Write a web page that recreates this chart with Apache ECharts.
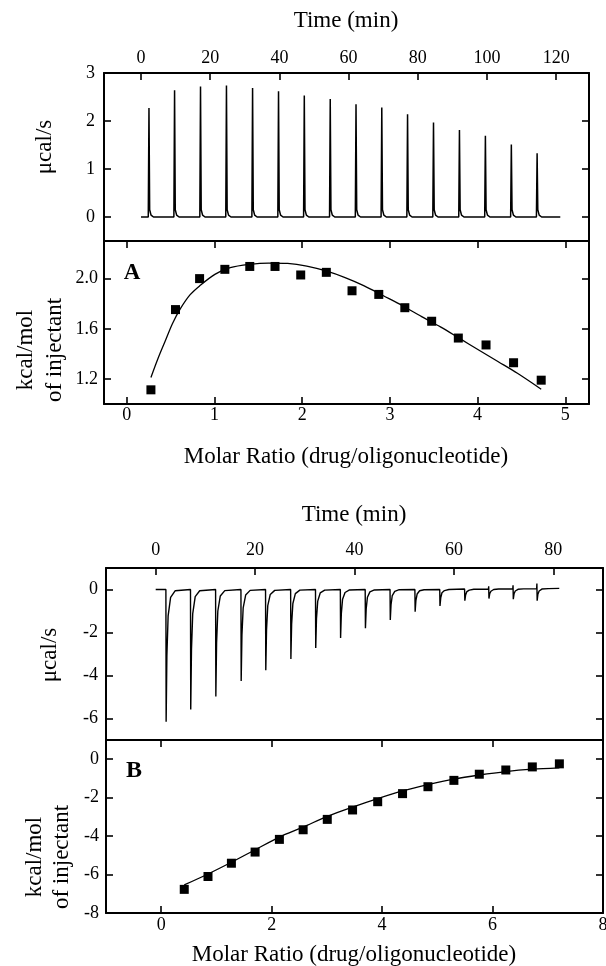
<!DOCTYPE html>
<html>
<head>
<meta charset="utf-8">
<script src="https://cdn.jsdelivr.net/npm/echarts@6/dist/echarts.min.js"></script>
<style>
html,body{margin:0;padding:0;background:#fff;}
#chart{width:606px;height:966px;}
</style>
</head>
<body>
<div id="chart"></div>
<script>
// ---------- Panel A : thermogram (time min, µcal/s) ----------
const timeTicksA = [0, 20, 40, 60, 80, 100, 120];
const powerTicksA = [0, 1, 2, 3];
const thermoA = [
  [0,0],
  [2.1,0],[2.3,2.27],[2.5,0.15],[2.9,0.04],[3.6,0],
  [9.5,0],[9.7,2.64],[9.9,0.15],[10.3,0.04],[11.0,0],
  [17.0,0],[17.2,2.72],[17.4,0.15],[17.8,0.04],[18.5,0],
  [24.5,0],[24.7,2.74],[24.9,0.15],[25.3,0.04],[26.0,0],
  [32.05,0],[32.25,2.69],[32.45,0.15],[32.85,0.04],[33.55,0],
  [39.55,0],[39.75,2.62],[39.95,0.15],[40.35,0.04],[41.05,0],
  [47.0,0],[47.2,2.53],[47.4,0.15],[47.8,0.04],[48.5,0],
  [54.5,0],[54.7,2.46],[54.9,0.15],[55.3,0.04],[56.0,0],
  [61.95,0],[62.15,2.35],[62.35,0.15],[62.75,0.04],[63.45,0],
  [69.4,0],[69.6,2.28],[69.8,0.15],[70.2,0.04],[70.9,0],
  [76.85,0],[77.05,2.14],[77.25,0.15],[77.65,0.04],[78.35,0],
  [84.35,0],[84.55,1.97],[84.75,0.15],[85.15,0.04],[85.85,0],
  [91.85,0],[92.05,1.81],[92.25,0.15],[92.65,0.04],[93.35,0],
  [99.35,0],[99.55,1.69],[99.75,0.15],[100.15,0.04],[100.85,0],
  [106.85,0],[107.05,1.51],[107.25,0.15],[107.65,0.04],[108.35,0],
  [114.3,0],[114.5,1.33],[114.7,0.15],[115.1,0.04],[115.8,0],
  [121.2,0]
];

// ---------- Panel A : integrated heats ----------
const ratioTicksA = [0, 1, 2, 3, 4, 5];
const heatTicksA = [1.2, 1.6, 2.0];
const ratioA = [0.275, 0.555, 0.83, 1.118, 1.402, 1.69, 1.983, 2.275, 2.568, 2.873, 3.17, 3.476, 3.78, 4.096, 4.41, 4.725];
const heatA  = [1.113, 1.753, 2.0, 2.074, 2.097, 2.097, 2.029, 2.05, 1.903, 1.874, 1.768, 1.66, 1.526, 1.471, 1.329, 1.19];
const fitRatioA = [0.275, 0.36, 0.437, 0.52, 0.611, 0.72, 0.83, 1.004, 1.179, 1.397, 1.616, 1.834, 2.052, 2.271, 2.489, 2.707, 2.926, 3.144, 3.362, 3.581, 3.799, 4.017, 4.236, 4.454, 4.725];
const fitHeatA  = [1.211, 1.37, 1.50, 1.64, 1.76, 1.87, 1.942, 2.034, 2.087, 2.113, 2.124, 2.121, 2.100, 2.061, 2.008, 1.942, 1.863, 1.784, 1.697, 1.613, 1.521, 1.429, 1.337, 1.245, 1.118];

// ---------- Panel B : thermogram ----------
const timeTicksB = [0, 20, 40, 60, 80];
const powerTicksB = [0, -2, -4, -6];
const thermoB = [
  [0,0],
  [2.05,0],[2.1,-6.15],[2.25,-3.08],[2.5,-1.23],[3.0,-0.37],[3.9,-0.06],
  [7.0,0],[7.05,-5.58],[7.2,-2.79],[7.45,-1.12],[7.95,-0.33],[8.85,-0.06],
  [12.05,0],[12.1,-4.98],[12.25,-2.49],[12.5,-1.0],[13.0,-0.3],[13.9,-0.05],
  [17.15,0],[17.2,-4.26],[17.35,-2.13],[17.6,-0.85],[18.1,-0.26],[19.0,-0.04],
  [22.1,0],[22.15,-3.75],[22.3,-1.88],[22.55,-0.75],[23.05,-0.23],[23.95,-0.04],
  [27.15,0],[27.2,-3.23],[27.35,-1.62],[27.6,-0.65],[28.1,-0.19],[29.0,-0.03],
  [32.15,0],[32.2,-2.72],[32.35,-1.36],[32.6,-0.54],[33.1,-0.16],[34.0,-0.03],
  [37.15,0],[37.2,-2.26],[37.35,-1.13],[37.6,-0.45],[38.1,-0.14],[39.0,-0.02],
  [42.15,0],[42.2,-1.80],[42.35,-0.9],[42.6,-0.36],[43.1,-0.11],[44.0,-0.02],
  [47.15,0],[47.2,-1.42],[47.35,-0.71],[47.6,-0.28],[48.1,-0.09],[49.0,-0.01],
  [52.15,0],[52.2,-1.03],[52.35,-0.52],[52.6,-0.21],[53.1,-0.06],[54.0,-0.01],
  [57.15,0],[57.2,-0.77],[57.35,-0.39],[57.6,-0.15],[58.1,-0.05],[59.0,0],
  [62.15,0.02],[62.2,-0.52],[62.35,-0.26],[62.6,-0.1],[63.1,-0.03],[64.0,0.01],
  [66.95,0.02],[67.0,0.15],[67.05,-0.42],[67.2,-0.2],[67.45,-0.08],[68.0,0],[69.0,0.02],
  [71.85,0.03],[71.9,0.2],[71.95,-0.45],[72.1,-0.2],[72.35,-0.07],[72.9,0.01],[74.0,0.03],
  [76.65,0.04],[76.7,0.28],[76.75,-0.52],[76.9,-0.22],[77.15,-0.07],[77.7,0.02],[79.0,0.04],
  [81.2,0.05]
];

// ---------- Panel B : integrated heats ----------
const ratioTicksB = [0, 2, 4, 6, 8];
const heatTicksB = [0, -2, -4, -6, -8];
const ratioB = [0.417, 0.847, 1.271, 1.70, 2.14, 2.57, 3.007, 3.465, 3.92, 4.37, 4.83, 5.30, 5.76, 6.24, 6.72, 7.21];
const heatB  = [-6.77, -6.10, -5.41, -4.83, -4.17, -3.67, -3.13, -2.64, -2.21, -1.79, -1.43, -1.10, -0.78, -0.56, -0.40, -0.24];
const fitRatioB = [0.417, 0.847, 1.271, 1.70, 2.14, 2.57, 3.007, 3.465, 3.92, 4.37, 4.83, 5.30, 5.76, 6.24, 6.72, 7.21];
const fitHeatB  = [-6.54, -5.97, -5.36, -4.71, -4.05, -3.53, -2.97, -2.49, -2.05, -1.65, -1.32, -1.03, -0.82, -0.64, -0.52, -0.45];

// ---------- build ----------
const FONT = '"Liberation Serif", "DejaVu Serif", serif';
const BLACK = '#000';

function pairs(xs, ys) { return xs.map((x, i) => [x, ys[i]]); }

function axis(gi, pos, min, max, ticks, showTicks, showLabels, margin, fmt) {
  return {
    type: 'value', gridIndex: gi, position: pos, min: min, max: max,
    splitLine: { show: false },
    axisLine: { show: true, onZero: false, lineStyle: { color: BLACK, width: 2 } },
    axisTick: { show: showTicks, inside: true, length: 7, customValues: ticks,
                lineStyle: { color: BLACK, width: 1.6 } },
    axisLabel: { show: showLabels, customValues: ticks, margin: margin,
                 fontFamily: FONT, fontSize: 18, color: BLACK,
                 formatter: fmt || (v => String(v)) }
  };
}

const grids = [
  { left: 104, right: 17, top: 73, height: 168 },
  { left: 104, right: 17, top: 241, height: 163 },
  { left: 106, right: 3, top: 568, height: 172 },
  { left: 106, right: 3, top: 740, height: 173 }
].map(g => Object.assign(g, { containLabel: false, outerBoundsMode: 'none' }));

const xAxes = [
  axis(0, 'top', -10.7, 129.5, timeTicksA, true, true, 6),
  axis(0, 'bottom', -10.7, 129.5, timeTicksA, false, false, 4),
  axis(1, 'bottom', -0.26, 5.27, ratioTicksA, true, true, 2),
  axis(1, 'top', -0.26, 5.27, ratioTicksA, true, false, 4),
  axis(2, 'top', -10, 90, timeTicksB, true, true, 9),
  axis(2, 'bottom', -10, 90, timeTicksB, false, false, 4),
  axis(3, 'bottom', -1, 8, ratioTicksB, true, true, 3),
  axis(3, 'top', -1, 8, ratioTicksB, true, false, 4)
];
const yAxes = [
  axis(0, 'left', -0.5, 3.0, powerTicksA, true, true, 9),
  axis(0, 'right', -0.5, 3.0, powerTicksA, true, false, 4),
  axis(1, 'left', 1.0, 2.3, heatTicksA, true, true, 6, v => v.toFixed(1)),
  axis(1, 'right', 1.0, 2.3, heatTicksA, true, false, 4),
  axis(2, 'left', -7, 1, powerTicksB, true, true, 8),
  axis(2, 'right', -7, 1, powerTicksB, true, false, 4),
  axis(3, 'left', -8, 1, heatTicksB, true, true, 7),
  axis(3, 'right', -8, 1, heatTicksB, true, false, 4)
];

function lineSeries(xi, yi, data, w, smooth) {
  return { type: 'line', xAxisIndex: xi, yAxisIndex: yi, data: data,
           showSymbol: false, symbol: 'none', smooth: smooth || false,
           lineStyle: { color: BLACK, width: w, opacity: 1 }, silent: true, z: 3 };
}
function scatterSeries(xi, yi, data) {
  return { type: 'scatter', xAxisIndex: xi, yAxisIndex: yi, data: data,
           symbol: 'rect', symbolSize: 9, itemStyle: { color: BLACK, opacity: 1 }, z: 4 };
}

function txt(x, y, text, size, opts) {
  opts = opts || {};
  return {
    type: 'text', x: x, y: y, rotation: opts.rot || 0, z: 10,
    style: {
      text: text, fill: BLACK,
      font: (opts.bold ? 'bold ' : '') + size + 'px ' + FONT,
      align: 'center', verticalAlign: 'middle',
      textAlign: 'center', textVerticalAlign: 'middle',
      lineHeight: opts.lh || size
    }
  };
}

const option = {
  animation: false,
  backgroundColor: '#fff',
  grid: grids,
  xAxis: xAxes,
  yAxis: yAxes,
  series: [
    lineSeries(0, 0, thermoA, 1.5),
    lineSeries(2, 2, pairs(fitRatioA, fitHeatA), 1.3, 0.3),
    scatterSeries(2, 2, pairs(ratioA, heatA)),
    lineSeries(4, 4, thermoB, 1.4),
    lineSeries(6, 6, pairs(fitRatioB, fitHeatB), 1.3, 0.3),
    scatterSeries(6, 6, pairs(ratioB, heatB))
  ],
  graphic: [
    txt(346, 21, 'Time (min)', 23),
    txt(45, 147, 'μcal/s', 23, { rot: Math.PI / 2 }),
    txt(132, 273, 'A', 23, { bold: true }),
    txt(40, 350, 'kcal/mol\nof injectant', 23, { rot: Math.PI / 2, lh: 29 }),
    txt(346, 457, 'Molar Ratio (drug/oligonucleotide)', 23),
    txt(354, 515, 'Time (min)', 23),
    txt(50, 655, 'μcal/s', 23, { rot: Math.PI / 2 }),
    txt(134, 771, 'B', 24, { bold: true }),
    txt(48, 857, 'kcal/mol\nof injectant', 23, { rot: Math.PI / 2, lh: 27 }),
    txt(354, 955, 'Molar Ratio (drug/oligonucleotide)', 23)
  ]
};

const chart = echarts.init(document.getElementById('chart'), null, { renderer: 'canvas' });
chart.setOption(option);
</script>
</body>
</html>
